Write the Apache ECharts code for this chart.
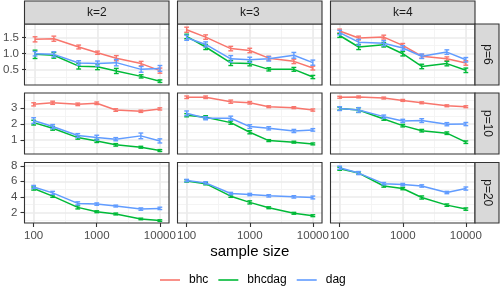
<!DOCTYPE html>
<html><head><meta charset="utf-8">
<script src="https://cdn.jsdelivr.net/npm/echarts@6/dist/echarts.min.js"></script>
<style>html,body{margin:0;padding:0;background:#fff}#c{width:500px;height:300px}</style>
</head><body><div id="c"></div>
<script>
// ---------- data ----------
const sampleSizes = [100, 200, 500, 1000, 2000, 5000, 10000];
const xTicks = [100, 1000, 10000];
const kLabels = ['k=2', 'k=3', 'k=4'];
const pLabels = ['p=6', 'p=10', 'p=20'];
const methods = ['bhc', 'bhcdag', 'dag'];
const xAxisTitle = 'sample size';
const yTicks = [[0.5, 1.0, 1.5], [1, 2, 3], [2, 4, 6, 8]];

// p = 6
const p6_k2_bhc = [1.45, 1.47, 1.21, 1.03, 0.86, 0.69, 0.47];
const p6_k2_bhc_se = [0.08, 0.08, 0.06, 0.05, 0.08, 0.07, 0.08];
const p6_k2_bhcdag = [0.98, 0.95, 0.61, 0.59, 0.46, 0.29, 0.14];
const p6_k2_bhcdag_se = [0.13, 0.09, 0.09, 0.09, 0.08, 0.05, 0.04];
const p6_k2_dag = [1.00, 0.98, 0.71, 0.69, 0.72, 0.51, 0.54];
const p6_k2_dag_se = [0.07, 0.08, 0.07, 0.08, 0.10, 0.09, 0.09];

const p6_k3_bhc = [1.75, 1.52, 1.16, 1.10, 0.86, 0.76, 0.55];
const p6_k3_bhc_se = [0.08, 0.07, 0.07, 0.07, 0.06, 0.07, 0.06];
const p6_k3_bhcdag = [1.54, 1.21, 0.71, 0.69, 0.51, 0.51, 0.27];
const p6_k3_bhcdag_se = [0.07, 0.08, 0.08, 0.07, 0.05, 0.06, 0.05];
const p6_k3_dag = [1.50, 1.29, 0.84, 0.81, 0.84, 0.95, 0.72];
const p6_k3_dag_se = [0.08, 0.08, 0.10, 0.08, 0.07, 0.09, 0.08];

const p6_k4_bhc = [1.71, 1.49, 1.52, 1.26, 0.92, 0.84, 0.71];
const p6_k4_bhc_se = [0.06, 0.06, 0.06, 0.06, 0.06, 0.06, 0.07];
const p6_k4_bhcdag = [1.57, 1.21, 1.28, 1.00, 0.60, 0.69, 0.48];
const p6_k4_bhcdag_se = [0.06, 0.08, 0.07, 0.07, 0.07, 0.07, 0.07];
const p6_k4_dag = [1.66, 1.36, 1.33, 1.18, 0.92, 1.05, 0.81];
const p6_k4_dag_se = [0.07, 0.09, 0.08, 0.07, 0.07, 0.07, 0.07];

// p = 10
const p10_k2_bhc = [3.25, 3.35, 3.25, 3.32, 2.89, 2.81, 2.96];
const p10_k2_bhc_se = [0.10, 0.10, 0.08, 0.08, 0.08, 0.07, 0.07];
const p10_k2_bhcdag = [2.09, 1.73, 1.14, 0.93, 0.68, 0.53, 0.32];
const p10_k2_bhcdag_se = [0.15, 0.12, 0.10, 0.10, 0.08, 0.06, 0.06];
const p10_k2_dag = [2.22, 1.84, 1.27, 1.14, 1.04, 1.25, 0.93];
const p10_k2_dag_se = [0.18, 0.13, 0.12, 0.15, 0.10, 0.18, 0.13];

const p10_k3_bhc = [3.70, 3.70, 3.42, 3.35, 3.10, 3.04, 2.89];
const p10_k3_bhc_se = [0.08, 0.08, 0.10, 0.08, 0.06, 0.06, 0.07];
const p10_k3_bhcdag = [2.56, 2.43, 2.09, 1.48, 0.95, 0.85, 0.74];
const p10_k3_bhcdag_se = [0.10, 0.10, 0.10, 0.10, 0.06, 0.06, 0.06];
const p10_k3_dag = [2.68, 2.37, 2.37, 1.84, 1.73, 1.56, 1.63];
const p10_k3_dag_se = [0.15, 0.10, 0.13, 0.12, 0.10, 0.10, 0.08];

const p10_k4_bhc = [3.70, 3.72, 3.65, 3.50, 3.35, 3.16, 3.10];
const p10_k4_bhc_se = [0.06, 0.06, 0.06, 0.06, 0.06, 0.06, 0.06];
const p10_k4_bhcdag = [2.98, 2.89, 2.32, 1.90, 1.58, 1.42, 0.85];
const p10_k4_bhcdag_se = [0.10, 0.15, 0.08, 0.08, 0.08, 0.08, 0.08];
const p10_k4_dag = [2.98, 2.89, 2.47, 2.20, 2.22, 1.99, 2.00];
const p10_k4_dag_se = [0.12, 0.15, 0.10, 0.10, 0.12, 0.10, 0.10];

// p = 20 (no bhc results)
const p20_k2_bhcdag = [5.07, 4.09, 2.65, 2.09, 1.80, 1.16, 0.95];
const p20_k2_bhcdag_se = [0.20, 0.15, 0.20, 0.12, 0.12, 0.10, 0.10];
const p20_k2_dag = [5.27, 4.51, 3.16, 3.07, 2.82, 2.43, 2.52];
const p20_k2_dag_se = [0.20, 0.20, 0.20, 0.15, 0.12, 0.15, 0.15];

const p20_k3_bhcdag = [6.05, 5.70, 4.09, 3.29, 2.60, 1.89, 1.58];
const p20_k3_bhcdag_se = [0.15, 0.15, 0.15, 0.20, 0.12, 0.12, 0.12];
const p20_k3_dag = [6.10, 5.80, 4.43, 4.30, 4.13, 4.00, 3.92];
const p20_k3_dag_se = [0.15, 0.15, 0.15, 0.15, 0.15, 0.15, 0.18];

const p20_k4_bhcdag = [7.62, 7.06, 5.40, 5.07, 3.92, 2.94, 2.43];
const p20_k4_bhcdag_se = [0.20, 0.15, 0.15, 0.15, 0.20, 0.15, 0.15];
const p20_k4_dag = [7.75, 7.06, 5.70, 5.58, 5.40, 4.56, 5.07];
const p20_k4_dag_se = [0.20, 0.20, 0.15, 0.15, 0.15, 0.15, 0.20];

// y axis settings per row (p)
const yMin = [0.02, 0.10, 0.64];
const yMax = [1.93, 3.97, 8.42];
const yStep = [0.5, 1, 2];
const yDecimals = [1, 0, 0];
const xMinLog = 1.855, xMaxLog = 4.145;

// ---------- assemble ----------
const panels = [
  [
    { bhc: [p6_k2_bhc, p6_k2_bhc_se], bhcdag: [p6_k2_bhcdag, p6_k2_bhcdag_se], dag: [p6_k2_dag, p6_k2_dag_se] },
    { bhc: [p6_k3_bhc, p6_k3_bhc_se], bhcdag: [p6_k3_bhcdag, p6_k3_bhcdag_se], dag: [p6_k3_dag, p6_k3_dag_se] },
    { bhc: [p6_k4_bhc, p6_k4_bhc_se], bhcdag: [p6_k4_bhcdag, p6_k4_bhcdag_se], dag: [p6_k4_dag, p6_k4_dag_se] }
  ],
  [
    { bhc: [p10_k2_bhc, p10_k2_bhc_se], bhcdag: [p10_k2_bhcdag, p10_k2_bhcdag_se], dag: [p10_k2_dag, p10_k2_dag_se] },
    { bhc: [p10_k3_bhc, p10_k3_bhc_se], bhcdag: [p10_k3_bhcdag, p10_k3_bhcdag_se], dag: [p10_k3_dag, p10_k3_dag_se] },
    { bhc: [p10_k4_bhc, p10_k4_bhc_se], bhcdag: [p10_k4_bhcdag, p10_k4_bhcdag_se], dag: [p10_k4_dag, p10_k4_dag_se] }
  ],
  [
    { bhcdag: [p20_k2_bhcdag, p20_k2_bhcdag_se], dag: [p20_k2_dag, p20_k2_dag_se] },
    { bhcdag: [p20_k3_bhcdag, p20_k3_bhcdag_se], dag: [p20_k3_dag, p20_k3_dag_se] },
    { bhcdag: [p20_k4_bhcdag, p20_k4_bhcdag_se], dag: [p20_k4_dag, p20_k4_dag_se] }
  ]
];

const colors = { bhc: '#F8766D', bhcdag: '#00BA38', dag: '#619CFF' };
const FONT = "'Liberation Sans', Arial, Helvetica, sans-serif";
const colX = [[24.5, 169], [177.5, 322], [330.5, 475]];
const rowY = [[24, 85], [93, 154], [162.5, 223]];
const stripTop = 1, stripRight = 499;

const grids = [], xAxes = [], xMinor = [], yAxes = [], series = [], graphics = [];

for (let r = 0; r < 3; r++) {
  for (let c = 0; c < 3; c++) {
    const i = r * 3 + c;
    const [x0, x1] = colX[c], [y0, y1] = rowY[r];
    grids.push({ left: x0, top: y0, width: x1 - x0, height: y1 - y0, show: false, containLabel: false });
    xAxes.push({
      type: 'log', logBase: 10, gridIndex: i, position: 'bottom',
      min: Math.pow(10, xMinLog), max: Math.pow(10, xMaxLog), z: 1,
      axisLine: { show: false },
      axisTick: { show: r === 2, customValues: xTicks, length: 4, lineStyle: { color: '#333333', width: 1.1 } },
      axisLabel: {
        show: r === 2, customValues: xTicks, color: '#4D4D4D', fontSize: 11.5, fontFamily: FONT, margin: 7,
        formatter: v => String(Math.round(v))
      },
      splitLine: { show: true, lineStyle: { color: '#EBEBEB', width: 1.6 } }
    });
    xMinor.push({
      type: 'log', logBase: Math.sqrt(10), gridIndex: i, position: 'top',
      min: Math.pow(10, xMinLog), max: Math.pow(10, xMaxLog), z: 0,
      axisLine: { show: false }, axisTick: { show: false }, axisLabel: { show: false },
      splitLine: { show: true, lineStyle: { color: '#F3F3F3', width: 0.9 } }
    });
    yAxes.push({
      type: 'value', gridIndex: i, min: yMin[r], max: yMax[r],
      minInterval: yStep[r], maxInterval: yStep[r], z: 1,
      axisLine: { show: false },
      axisTick: { show: c === 0, customValues: yTicks[r], length: 4, lineStyle: { color: '#333333', width: 1.1 } },
      axisLabel: {
        show: c === 0, customValues: yTicks[r], color: '#4D4D4D', fontSize: 11.5, fontFamily: FONT, margin: 7,
        formatter: v => Number(v).toFixed(yDecimals[r])
      },
      splitLine: { show: true, lineStyle: { color: '#EBEBEB', width: 1.6 } },
      minorTick: { show: false, splitNumber: 2 },
      minorSplitLine: { show: true, lineStyle: { color: '#F3F3F3', width: 0.9 } }
    });

    methods.forEach((m, j) => {
      const d = panels[r][c][m];
      if (!d) return;
      const [mean, se] = d;
      series.push({
        name: m, type: 'line', xAxisIndex: i, yAxisIndex: i,
        data: sampleSizes.map((n, t) => [n, mean[t]]),
        symbol: 'none', silent: true, animation: false, z: 3 + j * 2,
        lineStyle: { color: colors[m], width: 1.5 }, itemStyle: { color: colors[m] }
      });
      series.push({
        name: m, type: 'custom', xAxisIndex: i, yAxisIndex: i, silent: true, animation: false,
        z: 4 + j * 2, itemStyle: { color: colors[m] },
        encode: { x: 0, y: [1, 2] },
        data: sampleSizes.map((n, t) => [n, mean[t] - se[t], mean[t] + se[t]]),
        renderItem: (params, api) => {
          const lo = api.coord([api.value(0), api.value(1)]);
          const hi = api.coord([api.value(0), api.value(2)]);
          const cap = 2.4;
          const st = { stroke: colors[m], lineWidth: 1.4, fill: null };
          return {
            type: 'group', children: [
              { type: 'line', shape: { x1: lo[0], y1: lo[1], x2: hi[0], y2: hi[1] }, style: st },
              { type: 'line', shape: { x1: lo[0] - cap, y1: lo[1], x2: lo[0] + cap, y2: lo[1] }, style: st },
              { type: 'line', shape: { x1: hi[0] - cap, y1: hi[1], x2: hi[0] + cap, y2: hi[1] }, style: st }
            ]
          };
        }
      });
    });

    graphics.push({
      type: 'rect', z: 100, silent: true,
      shape: { x: x0, y: y0, width: x1 - x0, height: y1 - y0 },
      style: { fill: null, stroke: '#333333', lineWidth: 1.1 }
    });
  }
}

// strips
for (let c = 0; c < 3; c++) {
  const [x0, x1] = colX[c];
  graphics.push({ type: 'rect', z: 100, silent: true,
    shape: { x: x0, y: stripTop, width: x1 - x0, height: rowY[0][0] - stripTop },
    style: { fill: '#D9D9D9', stroke: '#333333', lineWidth: 1.1 } });
  graphics.push({ type: 'text', z: 101, silent: true, x: (x0 + x1) / 2, y: (stripTop + rowY[0][0]) / 2,
    style: { text: kLabels[c], fill: '#1A1A1A', font: '12px ' + FONT, align: 'center', verticalAlign: 'middle' } });
}
for (let r = 0; r < 3; r++) {
  const [y0, y1] = rowY[r];
  const sx = colX[2][1];
  graphics.push({ type: 'rect', z: 100, silent: true,
    shape: { x: sx, y: y0, width: stripRight - sx, height: y1 - y0 },
    style: { fill: '#D9D9D9', stroke: '#333333', lineWidth: 1.1 } });
  graphics.push({ type: 'text', z: 101, silent: true, x: (sx + stripRight) / 2, y: (y0 + y1) / 2,
    rotation: -Math.PI / 2,
    style: { text: pLabels[r], fill: '#1A1A1A', font: '12px ' + FONT, align: 'center', verticalAlign: 'middle' } });
}
graphics.push({ type: 'text', z: 101, silent: true, x: (colX[0][0] + colX[2][1]) / 2, y: 252,
  style: { text: xAxisTitle, fill: '#000000', font: '15px ' + FONT, align: 'center', verticalAlign: 'middle' } });

const chart = echarts.init(document.getElementById('c'), null, { renderer: 'canvas' });
chart.setOption({
  animation: false,
  backgroundColor: '#ffffff',
  grid: grids,
  xAxis: xAxes.concat(xMinor),
  yAxis: yAxes,
  legend: {
    data: methods, left: 160, top: 274, padding: 0, itemGap: 10,
    itemWidth: 20, itemHeight: 1.6, icon: 'rect',
    textStyle: { color: '#000000', fontSize: 12, fontFamily: FONT, padding: [0, 0, 0, 4] },
    selectedMode: false
  },
  graphic: graphics,
  series: series
});
</script></body></html>
